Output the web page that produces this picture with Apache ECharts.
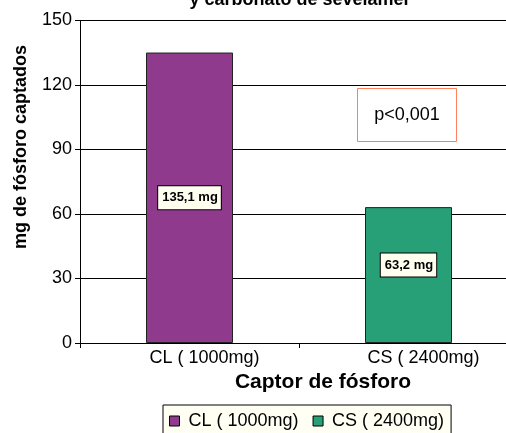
<!DOCTYPE html>
<html>
<head>
<meta charset="utf-8">
<script src="https://cdn.jsdelivr.net/npm/echarts@6/dist/echarts.min.js"></script>
<style>
  html, body { margin: 0; padding: 0; background: #fff; }
  #chart { width: 506px; height: 433px; }
</style>
</head>
<body>
<div id="chart"></div>
<script>
// values
const categories = ['CL ( 1000mg)', 'CS ( 2400mg)']
const captado = [135.1, 63.2]
const barColors = ['#8f3a8c', '#27a077']
const yMin = 0
const yMax = 150
const yStep = 30

const FONT = "'Liberation Sans', Arial, sans-serif"

const chart = echarts.init(document.getElementById('chart'))

const labelBox = {
  show: true,
  position: 'inside',
  formatter: (p) => String(p.value).replace('.', ',') + ' mg',
  color: '#000',
  fontFamily: FONT,
  fontSize: 13,
  fontWeight: 'bold',
  backgroundColor: '#fffff0',
  borderColor: '#000',
  borderWidth: 1,
  padding: [5, 3, 5, 4],
}

const series = categories.map((name, i) => ({
  name,
  type: 'bar',
  barWidth: 87,
  barGap: '-100%',
  itemStyle: { color: barColors[i], borderColor: '#222', borderWidth: 1 },
  label: Object.assign({}, labelBox, i === 1 ? { offset: [0, -10] } : {}),
  data: categories.map((c, j) => (j === i ? captado[i] : '-')),
}))

chart.setOption({
  animation: false,
  textStyle: { fontFamily: FONT },
  // plot area runs past the right edge of the picture
  grid: { left: 80, top: 20.5, width: 438, bottom: 90, containLabel: false, outerBoundsMode: 'none' },
  legend: {
    data: categories,
    left: 163,
    top: 405,
    icon: 'rect',
    itemWidth: 10,
    itemHeight: 10,
    itemGap: 14,
    padding: [7, 7, 7, 6],
    backgroundColor: '#fffff4',
    borderColor: '#000',
    borderWidth: 1,
    borderRadius: 0,
    itemStyle: { borderColor: '#000', borderWidth: 1 },
    textStyle: { fontSize: 18, color: '#000', fontFamily: FONT, padding: [0, 0, 0, 4] },
  },
  xAxis: {
    type: 'category',
    data: categories,
    axisLine: { lineStyle: { color: '#000', width: 1 } },
    axisTick: { show: true, length: 5, lineStyle: { color: '#000' } },
    axisLabel: { color: '#000', fontSize: 18, margin: 6, padding: [0, 0, 0, 30] },
  },
  yAxis: {
    type: 'value',
    min: yMin,
    max: yMax,
    interval: yStep,
    axisLine: { show: true, lineStyle: { color: '#000', width: 1 } },
    axisTick: { show: true, length: 5, lineStyle: { color: '#000' } },
    axisLabel: { color: '#000', fontSize: 18, margin: 8 },
    splitLine: { show: true, lineStyle: { color: '#000', width: 1 } },
  },
  graphic: [
    {
      type: 'text',
      x: 300,
      y: 9,
      style: {
        text: 'y carbonato de sevelamer',
        font: 'bold 18px ' + FONT,
        fill: '#000',
        textAlign: 'center',
        textVerticalAlign: 'bottom',
      },
    },
    {
      type: 'text',
      x: 21,
      y: 147,
      rotation: Math.PI / 2,
      style: {
        text: 'mg de fósforo captados',
        font: 'bold 18px ' + FONT,
        fill: '#000',
        textAlign: 'center',
        textVerticalAlign: 'middle',
      },
    },
    {
      type: 'text',
      x: 323,
      y: 382,
      style: {
        text: 'Captor de fósforo',
        font: 'bold 21px ' + FONT,
        fill: '#000',
        textAlign: 'center',
        textVerticalAlign: 'middle',
      },
    },
    {
      type: 'rect',
      shape: { x: 357.5, y: 88.5, width: 99, height: 53 },
      style: { fill: '#fff', stroke: '#ff7f5e', lineWidth: 1 },
      z: 10,
    },
    {
      type: 'text',
      x: 407,
      y: 115,
      z: 11,
      style: {
        text: 'p<0,001',
        font: '18px ' + FONT,
        fill: '#000',
        textAlign: 'center',
        textVerticalAlign: 'middle',
      },
    },
  ],
  series,
})
</script>
</body>
</html>
